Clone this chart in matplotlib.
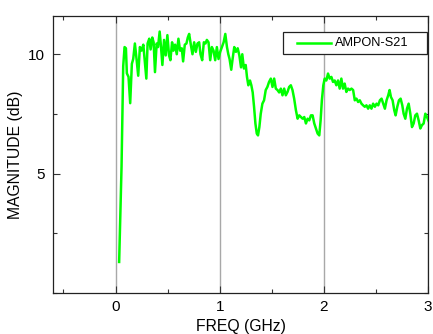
import matplotlib
matplotlib.use("Agg")
import matplotlib.pyplot as plt
from matplotlib.ticker import MultipleLocator
from matplotlib.patches import Rectangle
from matplotlib.lines import Line2D

plt.rcParams['font.family'] = ['Liberation Sans', 'DejaVu Sans']

freq_ghz = [0.035, 0.058, 0.074, 0.087, 0.100, 0.109, 0.125, 0.141, 0.157, 0.170,
            0.186, 0.202, 0.218, 0.234, 0.250, 0.267, 0.283, 0.296, 0.308, 0.324,
            0.337, 0.353, 0.366, 0.379, 0.395, 0.408, 0.424, 0.437, 0.450, 0.466,
            0.482, 0.498, 0.514, 0.527, 0.543, 0.556, 0.572, 0.588, 0.604, 0.620,
            0.636, 0.649, 0.665, 0.681, 0.694, 0.707, 0.723, 0.739, 0.755, 0.771,
            0.787, 0.803, 0.816, 0.832, 0.848, 0.864, 0.877, 0.893, 0.909, 0.925,
            0.941, 0.957, 0.973, 0.989, 1.005, 1.022, 1.038, 1.054, 1.070, 1.083,
            1.095, 1.111, 1.124, 1.140, 1.156, 1.173, 1.189, 1.205, 1.217, 1.233,
            1.250, 1.262, 1.275, 1.291, 1.304, 1.317, 1.330, 1.343, 1.356, 1.368,
            1.381, 1.394, 1.410, 1.426, 1.442, 1.458, 1.474, 1.491, 1.507, 1.523,
            1.539, 1.555, 1.571, 1.587, 1.603, 1.619, 1.635, 1.651, 1.667, 1.683,
            1.699, 1.715, 1.732, 1.748, 1.764, 1.780, 1.796, 1.812, 1.828, 1.844,
            1.860, 1.876, 1.892, 1.908, 1.924, 1.940, 1.956, 1.969, 1.981, 1.995,
            2.008, 2.024, 2.040, 2.056, 2.072, 2.088, 2.104, 2.120, 2.136, 2.152,
            2.168, 2.184, 2.200, 2.216, 2.232, 2.248, 2.265, 2.281, 2.297, 2.313,
            2.329, 2.345, 2.361, 2.377, 2.393, 2.409, 2.425, 2.441, 2.457, 2.473,
            2.490, 2.506, 2.522, 2.538, 2.554, 2.570, 2.586, 2.602, 2.618, 2.631,
            2.644, 2.660, 2.676, 2.689, 2.705, 2.721, 2.737, 2.753, 2.766, 2.782,
            2.798, 2.814, 2.830, 2.846, 2.862, 2.878, 2.894, 2.910, 2.926, 2.942,
            2.958, 2.974, 2.990, 3.010]
s21_db = [1.30, 5.30, 9.50, 10.30, 10.25, 9.20, 9.05, 7.95, 9.60, 9.80,
          10.45, 9.80, 9.10, 10.30, 10.15, 10.40, 9.60, 8.98, 10.45, 10.65,
          10.20, 10.70, 10.50, 9.25, 10.45, 10.30, 10.95, 10.30, 9.55, 10.60,
          9.95, 10.80, 9.95, 9.75, 10.50, 10.15, 10.40, 10.00, 10.65, 10.15,
          10.25, 9.70, 10.40, 10.45, 10.70, 10.85, 10.40, 10.00, 10.50, 10.10,
          10.45, 10.50, 10.00, 9.75, 10.50, 10.45, 10.60, 10.50, 9.75, 10.30,
          10.15, 9.75, 10.30, 9.80, 10.10, 10.30, 10.50, 10.85, 10.30, 10.00,
          9.80, 9.35, 9.80, 10.30, 10.10, 10.25, 9.95, 9.45, 10.00, 9.40,
          9.55, 9.05, 8.70, 8.90, 8.70, 8.40, 7.80, 7.10, 6.68, 6.60,
          6.95, 7.50, 7.93, 8.07, 8.50, 8.63, 8.84, 8.98, 8.63, 8.98,
          8.56, 8.50, 8.40, 8.56, 8.28, 8.56, 8.28, 8.42, 8.63, 8.70,
          8.50, 8.14, 7.65, 7.30, 7.44, 7.37, 7.30, 7.37, 7.10, 7.30,
          7.23, 7.44, 7.44, 7.10, 6.89, 6.68, 6.60, 7.23, 8.07, 8.70,
          8.98, 8.90, 9.19, 8.98, 9.05, 8.84, 8.90, 8.70, 8.90, 8.56,
          8.98, 8.56, 8.77, 8.42, 8.56, 8.50, 8.56, 8.50, 8.07, 8.14,
          8.00, 8.07, 7.93, 7.86, 7.80, 7.86, 7.72, 7.86, 7.72, 7.93,
          7.80, 7.93, 7.86, 8.07, 8.14, 7.93, 7.72, 8.07, 8.28, 8.50,
          8.21, 8.07, 7.65, 7.44, 7.80, 8.07, 8.14, 7.86, 7.51, 7.30,
          7.72, 7.93, 7.51, 6.95, 7.10, 7.44, 7.51, 7.23, 6.89, 7.03,
          7.10, 7.51, 7.37, 7.16]

series_label = "AMPON-S21"
x_ticks = [0, 1, 2, 3]
y_ticks = [5, 10]

LINE_COLOR = '#00ff00'
LW = 1.8

fig = plt.figure(figsize=(4.33, 3.34), dpi=100)
ax = fig.add_axes([0.1224, 0.1228, 0.8661, 0.8292])
ax.plot(freq_ghz, s21_db, color=LINE_COLOR, lw=LW, label=series_label, zorder=3)

ax.set_xlim(-0.6, 3.0)
ax.set_ylim(0, 11.6)
ax.set_xticks(x_ticks)
ax.set_yticks(y_ticks)
ax.xaxis.set_minor_locator(MultipleLocator(0.5))
ax.yaxis.set_minor_locator(MultipleLocator(2.5))
ax.grid(True, axis='x', which='major', color='#a8a8a8', lw=1.0)
ax.tick_params(which='both', direction='in', top=True, right=True,
               labelsize=11, width=0.8, color='#333333')
ax.tick_params(which='major', length=5)
ax.tick_params(which='minor', length=3)
ax.tick_params(axis='x', which='major', pad=5)
ax.tick_params(axis='y', which='major', pad=6)
for s in ax.spines.values():
    s.set_linewidth(0.9)
    s.set_color('#222222')

ax.set_xlabel("FREQ (GHz)", fontsize=11.3, labelpad=4)
ax.set_ylabel("MAGNITUDE (dB)", fontsize=11.3, labelpad=3)

# legend drawn as a framed box (axes coordinates)
ax.add_patch(Rectangle((0.6133, 0.8628), 0.3840, 0.0794, transform=ax.transAxes,
                       facecolor='white', edgecolor='#222222', lw=0.9, zorder=5))
ax.add_line(Line2D([0.6507, 0.7413], [0.9025, 0.9025], transform=ax.transAxes,
                   color=LINE_COLOR, lw=LW, zorder=6))
ax.text(0.752, 0.9025, series_label, transform=ax.transAxes, fontsize=9.2,
        va='center', ha='left', zorder=6)

fig.savefig("out.png", dpi=100)
